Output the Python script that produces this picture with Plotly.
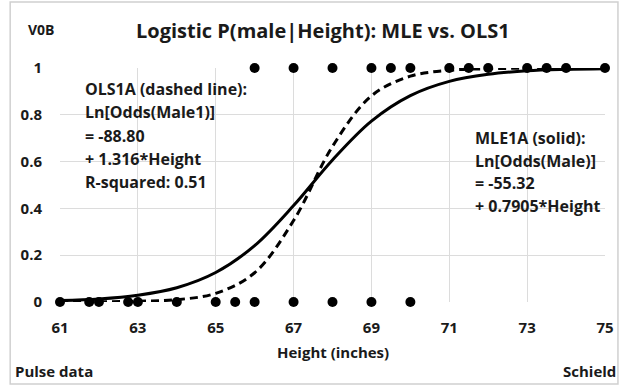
import plotly.graph_objects as go

# Observed data (0 = female, 1 = male)
height_female = [61, 61.75, 62, 62.75, 63, 64, 65, 65.5, 66, 67, 68, 69, 70]
height_male = [66, 67, 68, 69, 69.5, 70, 71, 71.5, 72, 73, 73.5, 74, 75]

# Fitted curves
curve_height = [61, 62, 63, 64, 65, 66, 67, 68, 69, 70, 71, 72, 73, 74, 75]
mle_prob = [0.006, 0.013, 0.029, 0.061, 0.126, 0.241, 0.412, 0.607, 0.773, 0.882, 0.943, 0.973, 0.988, 0.994, 0.997]
ols_prob = [0.000, 0.001, 0.003, 0.010, 0.037, 0.125, 0.348, 0.665, 0.881, 0.965, 0.990, 0.997, 0.999, 1.000, 1.000]

x_ticks = [61, 63, 65, 67, 69, 71, 73, 75]
y_ticks = [0, 0.2, 0.4, 0.6, 0.8, 1]

FONT = "Open Sans"
TXT = "#1a1a1a"
fig = go.Figure()

fig.add_trace(go.Scatter(x=curve_height, y=mle_prob, mode="lines",
                         line=dict(color="black", width=3, shape="spline"),
                         showlegend=False, cliponaxis=False))
fig.add_trace(go.Scatter(x=curve_height, y=ols_prob, mode="lines",
                         line=dict(color="black", width=3, shape="spline", dash="8px,5px"),
                         showlegend=False, cliponaxis=False))
fig.add_trace(go.Scatter(x=height_female, y=[0] * len(height_female), mode="markers",
                         marker=dict(color="black", size=10),
                         showlegend=False, cliponaxis=False))
fig.add_trace(go.Scatter(x=height_male, y=[1] * len(height_male), mode="markers",
                         marker=dict(color="black", size=10),
                         showlegend=False, cliponaxis=False))

W, H = 626, 386
L, R, T, B = 60, 19, 68, 84
pw, ph = W - L - R, H - T - B


def px(xp):
    return (xp - L) / pw


def py(yp):
    return (H - B - yp) / ph


def note(text, x, y, size, xanchor="left"):
    return dict(text="<b>" + text + "</b>", x=px(x), y=py(y), xref="paper", yref="paper",
                showarrow=False, font=dict(size=size, family=FONT, color=TXT),
                xanchor=xanchor, yanchor="middle")


ann = [
    note("Logistic P(male|Height): MLE vs. OLS1", 324, 31, 20, "center"),
    note("V0B", 26, 30, 14),
    note("Pulse data", 13, 371, 15),
    note("Schield", 620, 371, 15, "right"),
    note("Height (inches)", 334, 352, 15, "center"),
]

ols_lines = ["OLS1A (dashed line):", "Ln[Odds(Male1)]", "= -88.80", "+ 1.316*Height", "R-squared: 0.51"]
for i, t in enumerate(ols_lines):
    ann.append(note(t, 83, 89 + i * 23.3, 16))
mle_lines = ["MLE1A (solid):", "Ln[Odds(Male)]", "= -55.32", "+ 0.7905*Height"]
for i, t in enumerate(mle_lines):
    ann.append(note(t, 475, 138 + i * 22.5, 16))

fig.update_layout(
    width=W, height=H,
    margin=dict(l=L, r=R, t=T, b=B),
    paper_bgcolor="white", plot_bgcolor="white",
    annotations=ann,
    shapes=[dict(type="rect", xref="paper", yref="paper", x0=px(10), x1=px(620), y0=py(384), y1=py(2),
                 line=dict(color="#d0d0d0", width=1.5), layer="below")],
    xaxis=dict(range=[61, 75], tickvals=x_ticks, ticktext=[f"<b>{v}</b>" for v in x_ticks],
               showgrid=True, gridcolor="#dcdcdc", gridwidth=1, zeroline=False, showline=False,
               ticks="outside", ticklen=12, tickcolor="rgba(0,0,0,0)",
               tickfont=dict(size=15, family=FONT, color=TXT)),
    yaxis=dict(range=[0, 1], tickvals=y_ticks, ticktext=["<b>0</b>", "<b>0.2</b>", "<b>0.4</b>", "<b>0.6</b>", "<b>0.8</b>", "<b>1</b>"],
               showgrid=True, gridcolor="#dcdcdc", gridwidth=1, zeroline=False, showline=False,
               ticks="outside", ticklen=14, tickcolor="rgba(0,0,0,0)",
               tickfont=dict(size=15, family=FONT, color=TXT)),
)

fig.write_html("out.html")
